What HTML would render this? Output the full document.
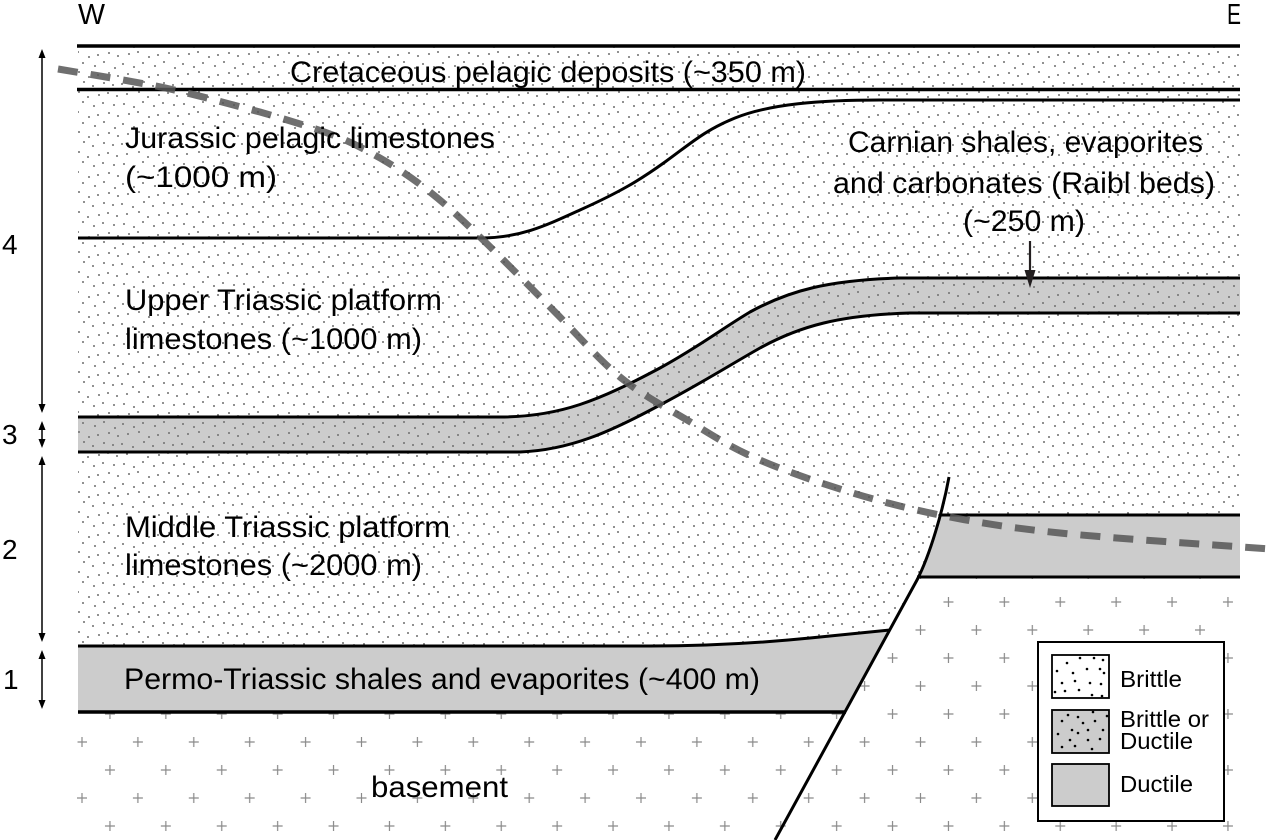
<!DOCTYPE html>
<html>
<head>
<meta charset="utf-8">
<style>
  html,body{margin:0;padding:0;background:#fff;}
  svg{display:block;}
  text{font-family:"Liberation Sans", Arial, sans-serif; fill:#000;}
</style>
</head>
<body>
<svg width="1272" height="840" viewBox="0 0 1272 840" xmlns="http://www.w3.org/2000/svg">
  <defs>
    <pattern id="dots" width="60" height="60" patternUnits="userSpaceOnUse">
      <g fill="#727272">
        <circle cx="3" cy="4" r="1.05"/><circle cx="14" cy="7" r="1.05"/><circle cx="23" cy="3" r="1.05"/><circle cx="35" cy="6" r="1.05"/><circle cx="44" cy="2" r="1.05"/><circle cx="55" cy="8" r="1.05"/>
        <circle cx="8" cy="14" r="1.05"/><circle cx="19" cy="12" r="1.05"/><circle cx="29" cy="17" r="1.05"/><circle cx="38" cy="15" r="1.05"/><circle cx="49" cy="13" r="1.05"/><circle cx="58" cy="16" r="1.05"/>
        <circle cx="2" cy="24" r="1.05"/><circle cx="13" cy="27" r="1.05"/><circle cx="24" cy="22" r="1.05"/><circle cx="33" cy="26" r="1.05"/><circle cx="44" cy="23" r="1.05"/><circle cx="53" cy="25" r="1.05"/>
        <circle cx="7" cy="34" r="1.05"/><circle cx="19" cy="32" r="1.05"/><circle cx="28" cy="37" r="1.05"/><circle cx="39" cy="35" r="1.05"/><circle cx="48" cy="33" r="1.05"/><circle cx="57" cy="36" r="1.05"/>
        <circle cx="4" cy="44" r="1.05"/><circle cx="14" cy="47" r="1.05"/><circle cx="23" cy="42" r="1.05"/><circle cx="34" cy="46" r="1.05"/><circle cx="43" cy="43" r="1.05"/><circle cx="54" cy="45" r="1.05"/>
        <circle cx="9" cy="54" r="1.05"/><circle cx="18" cy="52" r="1.05"/><circle cx="29" cy="57" r="1.05"/><circle cx="38" cy="55" r="1.05"/><circle cx="49" cy="53" r="1.05"/><circle cx="58" cy="56" r="1.05"/>
      </g>
    </pattern>
    <pattern id="cross" x="12.125" y="0" width="55.9" height="56" patternUnits="userSpaceOnUse">
      <g stroke="#8a8a8a" stroke-width="1.2" fill="none">
        <path d="M8.975,14 H18.975 M13.975,9 V19"/>
        <path d="M36.925,42 H46.925 M41.925,37 V47"/>
      </g>
    </pattern>
  </defs>

  <!-- basement (crosses) -->
  <path d="M78,712 L846,712 L917,580 L917,577 L1240,577 L1240,840 L76,840 Z" fill="#fff"/>
  <path d="M78,712 L846,712 L917,580 L917,577 L1240,577 L1240,840 L76,840 Z" fill="url(#cross)"/>

  <!-- stippled sedimentary cover -->
  <path d="M78,46 L1240,46 L1240,515 L940,515 C933,540 925,560 917,580 L890,630 L810,638 C760,643 700,646 650,646 L78,646 Z" fill="#fff"/>
  <path d="M78,46 L1240,46 L1240,515 L940,515 C933,540 925,560 917,580 L890,630 L810,638 C760,643 700,646 650,646 L78,646 Z" fill="url(#dots)"/>

  <!-- Permo-Triassic band -->
  <path d="M78,646 L650,646 C700,646 760,643 810,638 L890,630 L846,712 L78,712 Z" fill="#cccccc"/>

  <!-- right block ductile band -->
  <path d="M940,515 L1240,515 L1240,577 L917,577 C925,560 933,540 940,515 Z" fill="#cccccc"/>

  <!-- Carnian band -->
  <path d="M78,417 L500,417 C560,417 600,400 660,368 C700,346 720,330 750,312 C790,290 830,280 900,278 L1240,278 L1240,313 L910,313 C840,315 800,326 760,348 C730,365 700,384 660,405 C610,432 570,450 520,452 L78,452 Z" fill="#cccccc"/>
  <path d="M78,417 L500,417 C560,417 600,400 660,368 C700,346 720,330 750,312 C790,290 830,280 900,278 L1240,278 L1240,313 L910,313 C840,315 800,326 760,348 C730,365 700,384 660,405 C610,432 570,450 520,452 L78,452 Z" fill="url(#dots)"/>

  <!-- boundary lines -->
  <g stroke="#000" fill="none" stroke-width="3.4">
    <path d="M77,46 L1240,46"/>
    <path d="M77,89.5 L1240,89.5"/>
  </g>
  <g stroke="#000" fill="none" stroke-width="3">
    <path d="M78,238 L480,238 C520,238 545,226 580,210 C620,192 640,180 665,162 C690,144 705,130 735,118 C770,104 820,100 880,100 L1240,100"/>
    <path d="M78,417 L500,417 C560,417 600,400 660,368 C700,346 720,330 750,312 C790,290 830,280 900,278 L1240,278"/>
    <path d="M78,452 L520,452 C570,450 610,432 660,405 C700,384 730,365 760,348 C800,326 840,315 910,313 L1240,313"/>
    <path d="M940,515 L1240,515"/>
    <path d="M917,577 L1240,577"/>
    <path d="M78,646 L650,646 C700,646 760,643 810,638 L890,630"/>
  </g>
  <path d="M78,712 L846,712" stroke="#000" stroke-width="3.6" fill="none"/>
  <!-- fault -->
  <path d="M949,477 C943,510 930,555 917,580 L775,840" stroke="#000" stroke-width="3" fill="none"/>

  <!-- dashed detachment line -->
  <path d="M58,69 C76.7,72.3 136.3,81.5 170,89 C203.7,96.5 233.3,105.3 260,112 C286.7,119.7 310,126.7 330,134 C350,141.3 363.3,148.5 380,158 C396.7,167.5 413.3,178.8 430,192 C446.7,205.2 459.5,217.3 480,237 C500.5,256.7 529.7,286.7 553,310 C576.3,333.3 597.7,358.7 620,377 C642.3,395.3 664.8,406.7 687,420 C709.2,433.3 727,445.3 753,457 C779,468.7 811.8,480.3 843,490 C874.2,499.7 903.8,507.8 940,515 C976.2,522.2 1005,527.3 1060,533 C1115,538.7 1235,546.3 1270,549"
        stroke="rgb(86,86,86)" stroke-opacity="0.85" stroke-width="7" stroke-dasharray="20 13" fill="none"/>

  <!-- Carnian arrow -->
  <path d="M1030,241 L1030,272" stroke="#231f20" stroke-width="2.2"/>
  <polygon points="1030,288 1024.5,270 1035.5,270" fill="#231f20"/>

  <!-- labels -->
  <text x="78" y="24" font-size="29" textLength="27" lengthAdjust="spacingAndGlyphs">W</text>
  <text x="1227" y="24" font-size="29" textLength="14" lengthAdjust="spacingAndGlyphs">E</text>

  <text x="290" y="82" font-size="30" textLength="516" lengthAdjust="spacingAndGlyphs">Cretaceous pelagic deposits (~350 m)</text>
  <text x="125" y="148" font-size="30" textLength="370" lengthAdjust="spacingAndGlyphs">Jurassic pelagic limestones</text>
  <text x="125" y="187" font-size="30" textLength="152" lengthAdjust="spacingAndGlyphs">(~1000 m)</text>
  <text x="848" y="152" font-size="30" textLength="355" lengthAdjust="spacingAndGlyphs">Carnian shales, evaporites</text>
  <text x="833" y="193" font-size="30" textLength="382" lengthAdjust="spacingAndGlyphs">and carbonates (Raibl beds)</text>
  <text x="963" y="231" font-size="30" textLength="122" lengthAdjust="spacingAndGlyphs">(~250 m)</text>
  <text x="125" y="310" font-size="30" textLength="317" lengthAdjust="spacingAndGlyphs">Upper Triassic platform</text>
  <text x="125" y="349" font-size="30" textLength="297" lengthAdjust="spacingAndGlyphs">limestones (~1000 m)</text>
  <text x="125" y="537" font-size="30" textLength="325" lengthAdjust="spacingAndGlyphs">Middle Triassic platform</text>
  <text x="125" y="575" font-size="30" textLength="297" lengthAdjust="spacingAndGlyphs">limestones (~2000 m)</text>
  <text x="124" y="689" font-size="30" textLength="636" lengthAdjust="spacingAndGlyphs">Permo-Triassic shales and evaporites (~400 m)</text>
  <text x="371" y="797" font-size="30" textLength="137" lengthAdjust="spacingAndGlyphs">basement</text>

  <!-- scale numbers -->
  <text x="2" y="254" font-size="28">4</text>
  <text x="2" y="444" font-size="28">3</text>
  <text x="2" y="559" font-size="28">2</text>
  <text x="3" y="689" font-size="28">1</text>

  <!-- scale arrows -->
  <g stroke="#000" stroke-width="1.5">
    <path d="M42,56 L42,406"/>
    <path d="M42,428 L42,441"/>
    <path d="M42,463 L42,635"/>
    <path d="M42,657 L42,702"/>
  </g>
  <g fill="#000">
    <polygon points="42,49 38.5,58 45.5,58"/>
    <polygon points="42,413 38.5,404 45.5,404"/>
    <polygon points="42,421 38.5,430 45.5,430"/>
    <polygon points="42,448 38.5,439 45.5,439"/>
    <polygon points="42,456 38.5,465 45.5,465"/>
    <polygon points="42,642 38.5,633 45.5,633"/>
    <polygon points="42,650 38.5,659 45.5,659"/>
    <polygon points="42,709 38.5,700 45.5,700"/>
  </g>

  <!-- legend -->
  <rect x="1038" y="642" width="186" height="179" fill="#fff" stroke="#000" stroke-width="2"/>
  <rect x="1052" y="655" width="57" height="43" fill="#fff" stroke="#000" stroke-width="1.8"/>
  <g fill="#000">
    <circle cx="1067" cy="663" r="1.3"/><circle cx="1080" cy="658" r="1.3"/><circle cx="1094" cy="658" r="1.3"/><circle cx="1103" cy="660" r="1.3"/>
    <circle cx="1057" cy="671" r="1.3"/><circle cx="1073" cy="673" r="1.3"/><circle cx="1087" cy="669" r="1.3"/><circle cx="1100" cy="669" r="1.3"/><circle cx="1104" cy="673" r="1.3"/>
    <circle cx="1062" cy="683" r="1.3"/><circle cx="1075" cy="681" r="1.3"/><circle cx="1090" cy="683" r="1.3"/><circle cx="1101" cy="684" r="1.3"/>
    <circle cx="1055" cy="692" r="1.3"/><circle cx="1065" cy="691" r="1.3"/><circle cx="1079" cy="690" r="1.3"/><circle cx="1092" cy="695" r="1.3"/><circle cx="1102" cy="696" r="1.3"/>
  </g>
  <rect x="1052" y="710" width="57" height="43" fill="#cccccc" stroke="#000" stroke-width="1.8"/>
  <g fill="#000">
    <circle cx="1068" cy="715" r="1.3"/><circle cx="1078" cy="717" r="1.3"/><circle cx="1093" cy="712" r="1.3"/><circle cx="1107" cy="716" r="1.3"/>
    <circle cx="1062" cy="721" r="1.3"/><circle cx="1072" cy="730" r="1.3"/><circle cx="1083" cy="723" r="1.3"/><circle cx="1095" cy="721" r="1.3"/>
    <circle cx="1058" cy="734" r="1.3"/><circle cx="1078" cy="733" r="1.3"/><circle cx="1088" cy="730" r="1.3"/><circle cx="1103" cy="730" r="1.3"/>
    <circle cx="1070" cy="740" r="1.3"/><circle cx="1088" cy="740" r="1.3"/><circle cx="1100" cy="739" r="1.3"/>
    <circle cx="1062" cy="747" r="1.3"/><circle cx="1075" cy="746" r="1.3"/><circle cx="1092" cy="749" r="1.3"/>
  </g>
  <rect x="1052" y="764" width="57" height="42" fill="#cccccc" stroke="#000" stroke-width="1.8"/>
  <text x="1120" y="687" font-size="23" textLength="62" lengthAdjust="spacingAndGlyphs">Brittle</text>
  <text x="1120" y="727" font-size="23" textLength="89" lengthAdjust="spacingAndGlyphs">Brittle or</text>
  <text x="1120" y="749" font-size="23" textLength="73" lengthAdjust="spacingAndGlyphs">Ductile</text>
  <text x="1120" y="792" font-size="23" textLength="73" lengthAdjust="spacingAndGlyphs">Ductile</text>
</svg>
</body>
</html>
